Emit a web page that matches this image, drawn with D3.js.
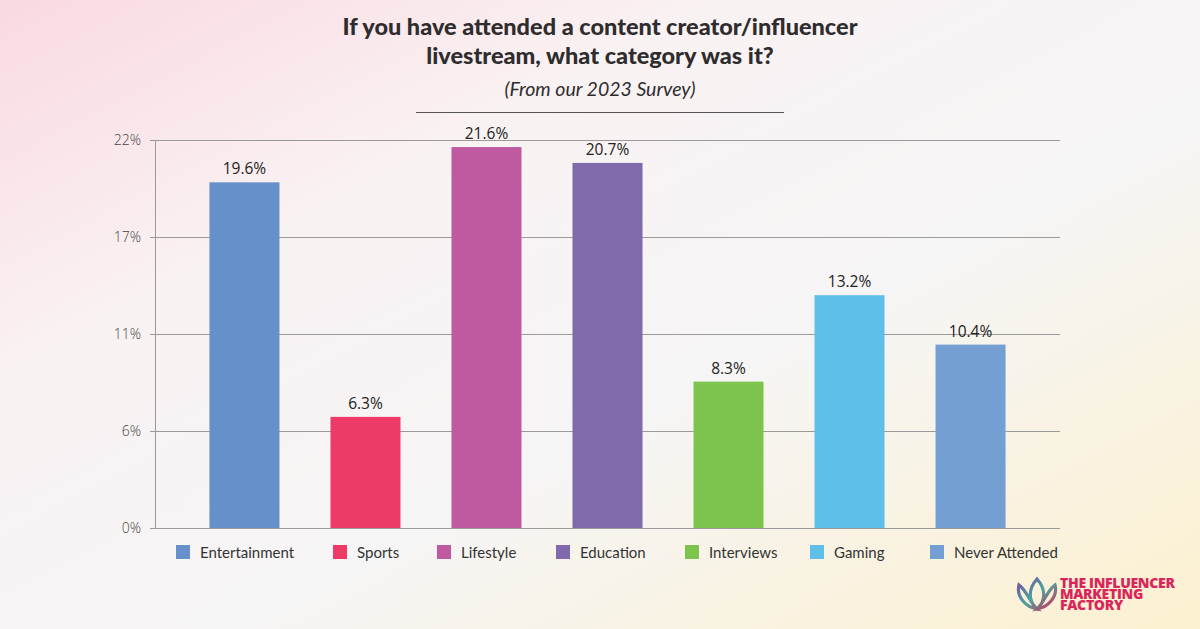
<!DOCTYPE html>
<html><head><meta charset="utf-8">
<script src="https://cdn.jsdelivr.net/npm/d3@7"></script>
<style>html,body{margin:0;padding:0;overflow:hidden;}svg{display:block;}</style>
</head><body>
<script>
const categories = ["Entertainment","Sports","Lifestyle","Education","Interviews","Gaming","Never Attended"];
const values = [19.6, 6.3, 21.6, 20.7, 8.3, 13.2, 10.4];
const colors = ["#6690c9","#ee3a66","#c05aa0","#7f6aab","#7dc44e","#5ebfe9","#739fd2"];
const tickValues = [0, 5.5, 11, 16.5, 22];
const tickLabels = ["0%","6%","11%","17%","22%"];
const titleLines = ["If you have attended a content creator/influencer","livestream, what category was it?"];
const subtitle = "(From our 2023 Survey)";
const logoLines = ["THE INFLUENCER","MARKETING","FACTORY"];

(function(){
const W = 1200, H = 629;
const svg = d3.select("body").append("svg").attr("width", W).attr("height", H);
const defs = svg.append("defs");
const bg = defs.append("linearGradient").attr("id","bg").attr("x1","0").attr("y1","0").attr("x2","1").attr("y2","1");
bg.append("stop").attr("offset","0").attr("stop-color","#fad9e1");
bg.append("stop").attr("offset","0.3").attr("stop-color","#f9f2f3");
bg.append("stop").attr("offset","0.6").attr("stop-color","#f6f5f5");
bg.append("stop").attr("offset","1").attr("stop-color","#fcf0cf");
svg.append("rect").attr("width",W).attr("height",H).attr("fill","url(#bg)");

const pl = 155, pr = 1060, pt = 140, pb = 528;
const x = d3.scaleBand().domain(categories).range([pl, pr]).paddingInner(0.4215).paddingOuter(0.45);
const y = d3.scaleLinear().domain([0, 22]).range([pb, pt]);

const yAxis = d3.axisLeft(y).tickValues(tickValues).tickFormat((d,i)=>tickLabels[i]).tickSize(-(pr-pl)).tickPadding(14);
const ga = svg.append("g").attr("transform",`translate(${pl},0)`).call(yAxis);
ga.select(".domain").attr("stroke","#9a9a9a");
ga.selectAll(".tick line").attr("stroke","#9a9a9a").attr("x1", -5);
ga.selectAll(".tick text").attr("font-family","'Open Sans', sans-serif").attr("font-weight",300).attr("font-size",14).attr("fill","#444").attr("x",-14);

svg.append("g").selectAll("rect").data(values).join("rect")
  .attr("x",(d,i)=>x(categories[i])).attr("width",x.bandwidth())
  .attr("y",d=>y(d)).attr("height",d=>pb-y(d))
  .attr("fill",(d,i)=>colors[i]);

svg.append("g").selectAll("text").data(values).join("text")
  .attr("x",(d,i)=>x(categories[i])+x.bandwidth()/2).attr("y",d=>y(d)-8)
  .attr("text-anchor","middle").attr("font-family","'Open Sans', sans-serif").attr("font-size",15.5).attr("fill","#222")
  .text(d=>d.toFixed(1)+"%");

svg.append("g").selectAll("text").data(titleLines).join("text")
  .attr("x",600).attr("y",(d,i)=>35+i*29).attr("text-anchor","middle")
  .attr("font-family","Lato, sans-serif").attr("font-weight",900).attr("font-size",23.5).attr("fill","#2f2c2e").text(d=>d);
svg.append("text").attr("x",600).attr("y",96).attr("text-anchor","middle")
  .attr("font-family","Lato, sans-serif").attr("font-style","italic").attr("font-size",19.5).attr("fill","#2f2c2e").text(subtitle);
svg.append("line").attr("x1",416).attr("x2",784).attr("y1",112.5).attr("y2",112.5).attr("stroke","#555").attr("stroke-width",1);

const legendX = [176, 333, 437, 556, 685, 810, 930];
const lg = svg.append("g").selectAll("g").data(categories).join("g")
  .attr("transform",(d,i)=>`translate(${legendX[i]},545)`);
lg.append("rect").attr("width",14).attr("height",14).attr("fill",(d,i)=>colors[i]);
lg.append("text").attr("x",24).attr("y",12.5).attr("font-family","Lato, sans-serif").attr("font-size",15).attr("fill","#333").text(d=>d);

const logo = svg.append("g").attr("transform","translate(1016,577)");
const lgG = defs.append("linearGradient").attr("id","lgG").attr("x1","0").attr("y1","0").attr("x2","1").attr("y2","1");
lgG.append("stop").attr("offset","0").attr("stop-color","#7a4aa0");
lgG.append("stop").attr("offset","0.5").attr("stop-color","#49a6a0");
lgG.append("stop").attr("offset","1").attr("stop-color","#d9265a");
logo.append("path").attr("d","M3,8 C0,20 10,30 21,32 C13,24 11,14 3,8 Z M39,8 C42,20 32,30 21,32 C29,24 31,14 39,8 Z M21,2 C12,12 12,24 21,32 C30,24 30,12 21,2 Z")
  .attr("fill","none").attr("stroke","url(#lgG)").attr("stroke-width",3.2);
const lt = logo.append("text").attr("font-family","'Open Sans', sans-serif").attr("font-weight",800)
  .attr("font-size",14).attr("fill","#d9265a").attr("letter-spacing",-0.3);
lt.selectAll("tspan").data(logoLines).join("tspan").attr("x",44).attr("y",(d,i)=>11+i*11).text(d=>d);
})();
</script>
</body></html>
